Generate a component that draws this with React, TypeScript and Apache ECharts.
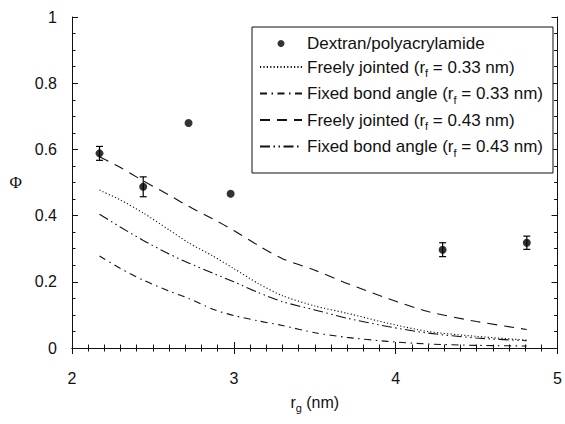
import React, { useEffect, useRef } from "react";
import * as echarts from "echarts";

// ---- data ----
const pointRg = [2.17, 2.44, 2.72, 2.98, 4.29, 4.81];
const pointPhi = [0.588, 0.487, 0.68, 0.466, 0.297, 0.318];
const pointErr = [0.021, 0.03, 0, 0, 0.021, 0.02];

const curveRg = [2.17, 2.3, 2.44, 2.6, 2.72, 2.87, 3.0, 3.15, 3.3, 3.5, 3.7, 3.95, 4.2, 4.5, 4.81];
const fj033 = [0.477, 0.447, 0.408, 0.357, 0.318, 0.278, 0.24, 0.195, 0.158, 0.127, 0.105, 0.075, 0.05, 0.035, 0.024];
const fb033 = [0.278, 0.24, 0.205, 0.172, 0.15, 0.117, 0.098, 0.082, 0.068, 0.046, 0.032, 0.02, 0.012, 0.008, 0.006];
const fj043 = [0.578, 0.545, 0.505, 0.462, 0.428, 0.39, 0.355, 0.31, 0.27, 0.235, 0.195, 0.15, 0.11, 0.08, 0.056];
const fb043 = [0.404, 0.365, 0.325, 0.284, 0.257, 0.226, 0.2, 0.168, 0.14, 0.115, 0.09, 0.065, 0.045, 0.03, 0.022];

const legendNames = [
  "Dextran/polyacrylamide",
  "Freely jointed (r_f = 0.33 nm)",
  "Fixed bond angle (r_f = 0.33 nm)",
  "Freely jointed (r_f = 0.43 nm)",
  "Fixed bond angle (r_f = 0.43 nm)",
];
const xTicks = [2, 3, 4, 5];
const yTicks = [0, 0.2, 0.4, 0.6, 0.8, 1];

const FONT = "'Liberation Sans', Arial, Helvetica, sans-serif";
const INK = "#111";

function richName(name: string): string {
  const i = name.indexOf("r_");
  if (i < 0) return `{a|${name}}`;
  const before = name.slice(0, i + 1);
  const sub = name.slice(i + 2, i + 3);
  const after = name.slice(i + 3);
  return `{a|${before}}{s|${sub}}{a|${after}}`;
}

export default function App() {
  const ref = useRef<HTMLDivElement>(null);
  useEffect(() => {
    if (!ref.current) return;
    const chart = echarts.init(ref.current, null, { renderer: "svg" });
    const pair = (ys: number[]) => curveRg.map((x, i) => [x, ys[i]]);
    const lineSeries = (name: string, ys: number[], dash: number[]) => ({
      name,
      type: "line",
      data: pair(ys),
      symbol: "none",
      smooth: 0.25,
      lineStyle: { color: INK, width: 1.1, type: dash },
      itemStyle: { color: INK },
      z: 2,
    });
    const errData = pointRg
      .map((x, i) => [x, pointPhi[i] - pointErr[i], pointPhi[i] + pointErr[i]])
      .filter((_, i) => pointErr[i] > 0);

    const commonAxis = {
      axisLine: { show: true, lineStyle: { color: INK, width: 1 } },
      splitLine: { show: false },
      axisTick: { show: true, inside: true, length: 6, lineStyle: { color: INK } },
      minorTick: { show: true, length: 3.5, lineStyle: { color: INK } },
    };

    chart.setOption({
      animation: false,
      backgroundColor: "#fff",
      grid: { left: 72, right: 7, top: 17, bottom: 76 },
      xAxis: [
        {
          ...commonAxis,
          type: "value",
          min: xTicks[0],
          max: xTicks[xTicks.length - 1],
          interval: 1,
          minorTick: { ...commonAxis.minorTick, splitNumber: 10 },
          axisLabel: { color: INK, fontFamily: FONT, fontSize: 16, margin: 22 },
          name: "{a|r}{s|g}{a| (nm)}",
          nameLocation: "middle",
          nameGap: 45,
          nameTextStyle: {
            color: INK,
            fontFamily: FONT,
            fontSize: 16,
            rich: {
              a: { fontFamily: FONT, fontSize: 16, lineHeight: 18, color: INK },
              s: { fontFamily: FONT, fontSize: 11, lineHeight: 8, padding: [11, 0, 0, 0], color: INK },
            },
          },
        },
        {
          ...commonAxis,
          type: "value",
          position: "top",
          min: xTicks[0],
          max: xTicks[xTicks.length - 1],
          interval: 1,
          minorTick: { ...commonAxis.minorTick, splitNumber: 10 },
          axisLabel: { show: false },
        },
      ],
      yAxis: [
        {
          ...commonAxis,
          type: "value",
          min: yTicks[0],
          max: yTicks[yTicks.length - 1],
          interval: 0.2,
          minorTick: { ...commonAxis.minorTick, splitNumber: 4 },
          axisLabel: { color: INK, fontFamily: FONT, fontSize: 16, margin: 15 },
          name: "Φ",
          nameLocation: "middle",
          nameRotate: 0,
          nameGap: 50,
          nameTextStyle: { color: INK, fontFamily: "'Liberation Serif', 'DejaVu Serif', serif", fontSize: 17 },
        },
        {
          ...commonAxis,
          type: "value",
          position: "right",
          min: yTicks[0],
          max: yTicks[yTicks.length - 1],
          interval: 0.2,
          minorTick: { ...commonAxis.minorTick, splitNumber: 4 },
          axisLabel: { show: false },
        },
      ],
      legend: {
        data: legendNames.map((name, i) =>
          i === 0 ? { name } : { name, itemStyle: { opacity: 0, borderWidth: 0 } }
        ),
        orient: "vertical",
        left: 252,
        top: 27,
        itemWidth: 42,
        itemHeight: 7,
        itemGap: 3.5,
        padding: [8, 10, 15, 7],
        borderColor: INK,
        borderWidth: 1,
        backgroundColor: "#fff",
        selectedMode: false,
        formatter: (name: string) => richName(name),
        textStyle: {
          color: INK,
          fontFamily: FONT,
          fontSize: 17,
          rich: {
            a: { fontFamily: FONT, fontSize: 17, lineHeight: 22, color: INK },
            s: { fontFamily: FONT, fontSize: 11, lineHeight: 8, padding: [12, 0, 0, 0], color: INK },
          },
        },
      },
      series: [
        {
          name: legendNames[0],
          type: "scatter",
          data: pointRg.map((x, i) => [x, pointPhi[i]]),
          symbol: "circle",
          symbolSize: 8,
          itemStyle: { color: "#000" },
          z: 5,
        },
        lineSeries(legendNames[1], fj033, [1.2, 2.2]),
        lineSeries(legendNames[2], fb033, [7, 4.5, 1.5, 4.5]),
        lineSeries(legendNames[3], fj043, [10, 7]),
        lineSeries(legendNames[4], fb043, [10, 3.5, 1.5, 3.5, 1.5, 3.5]),
        {
          name: "errors",
          type: "custom",
          data: errData,
          encode: { x: 0, y: [1, 2] },
          z: 4,
          renderItem: (_params: any, api: any) => {
            const x = api.value(0);
            const lo = api.coord([x, api.value(1)]);
            const hi = api.coord([x, api.value(2)]);
            const w = 3.5;
            const st = { stroke: "#000", lineWidth: 1.2 };
            return {
              type: "group",
              children: [
                { type: "line", shape: { x1: lo[0], y1: lo[1], x2: hi[0], y2: hi[1] }, style: st },
                { type: "line", shape: { x1: lo[0] - w, y1: lo[1], x2: lo[0] + w, y2: lo[1] }, style: st },
                { type: "line", shape: { x1: hi[0] - w, y1: hi[1], x2: hi[0] + w, y2: hi[1] }, style: st },
              ],
            };
          },
        },
      ],
    });
    return () => chart.dispose();
  }, []);
  return (
    <div
      ref={ref}
      style={{ position: "fixed", left: 0, top: 0, width: 565, height: 424, background: "#fff" }}
    />
  );
}
